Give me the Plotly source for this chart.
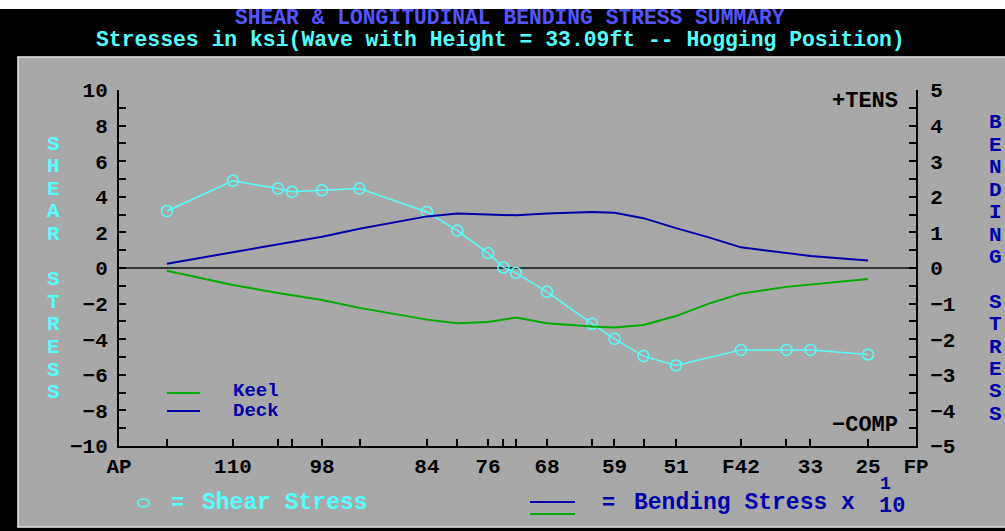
import plotly.graph_objects as go

# ---------------- data ----------------
# station positions along the ship, % of length from AP (0) to FP (100)
station_pos = [6.02, 14.30, 19.95, 21.71, 25.47, 30.18, 38.64, 42.45, 46.30, 48.24,
               49.81, 53.70, 59.35, 62.17, 65.81, 69.89, 78.04, 83.75, 86.76, 93.98]
station_labels = ["", "110", "", "", "98", "", "84", "", "76", "",
                  "", "68", "", "59", "", "51", "F42", "", "33", "25"]

shear_stress = [3.2, 4.9, 4.46, 4.28, 4.37, 4.46, 3.15, 2.1, 0.84, 0.03,
                -0.27, -1.34, -3.13, -3.98, -4.95, -5.48, -4.6, -4.6, -4.6, -4.86]

bend_pos = [6.02, 14.30, 19.95, 25.47, 30.18, 38.64, 42.45, 46.30, 49.81, 53.70,
            59.35, 62.17, 65.81, 69.89, 74.0, 78.04, 83.75, 86.76, 93.98]
deck_stress = [0.12, 0.45, 0.68, 0.88, 1.10, 1.45, 1.53, 1.51, 1.48, 1.53,
               1.57, 1.55, 1.40, 1.12, 0.86, 0.58, 0.41, 0.34, 0.21]
keel_stress = [-0.08, -0.48, -0.70, -0.90, -1.12, -1.45, -1.55, -1.52, -1.39, -1.55,
               -1.64, -1.67, -1.60, -1.35, -1.00, -0.72, -0.53, -0.46, -0.31]

end_labels = {0: "AP", 100: "FP"}

# ---------------- styling ----------------
W, H = 1005, 531
L, R, T, B = 119, 89, 90, 85
PW, PH = W - L - R, H - T - B
GREY = "#a8a8a8"
CYAN = "#55ffff"
BLUE = "#0000aa"
GREEN = "#00aa00"
TITLE_BLUE = "#5555ff"
MONO = "Liberation Mono"


def X(px):
    return (px - L) / PW


def Y(py):
    return (H - B - py) / PH


fig = go.Figure()

fig.add_trace(go.Scatter(x=bend_pos, y=keel_stress, yaxis="y2", mode="lines",
                         line=dict(color=GREEN, width=2), name="Keel", showlegend=False))
fig.add_trace(go.Scatter(x=bend_pos, y=deck_stress, yaxis="y2", mode="lines",
                         line=dict(color=BLUE, width=2), name="Deck", showlegend=False))
fig.add_trace(go.Scatter(x=station_pos, y=shear_stress, mode="lines+markers",
                         line=dict(color=CYAN, width=1.5),
                         marker=dict(symbol="circle-open", size=11, color=CYAN,
                                     line=dict(color=CYAN, width=1.5)),
                         name="Shear Stress", showlegend=False))

tickvals = [0] + station_pos + [100]
ticktext = [end_labels[0]] + station_labels + [end_labels[100]]

tickfont = dict(family=MONO, size=21, color="black", weight="bold")

shapes = [
    # white strip at very top
    dict(type="rect", xref="paper", yref="paper", x0=X(0), x1=X(W), y0=Y(9), y1=Y(0),
         fillcolor="white", line=dict(color="white", width=0), layer="above"),
    # grey panel with white border
    dict(type="rect", xref="paper", yref="paper", x0=X(18), x1=X(W + 5), y0=Y(527), y1=Y(57),
         fillcolor=GREY, line=dict(color="#e8e8e8", width=1.5), layer="below"),
    # legend glyphs (inside plot)
    dict(type="line", xref="paper", yref="paper", x0=X(167), x1=X(200), y0=Y(393), y1=Y(393),
         line=dict(color=GREEN, width=2)),
    dict(type="line", xref="paper", yref="paper", x0=X(167), x1=X(200), y0=Y(411), y1=Y(411),
         line=dict(color=BLUE, width=2)),
    # bottom legend glyphs
    dict(type="line", xref="paper", yref="paper", x0=X(530), x1=X(575), y0=Y(502), y1=Y(502),
         line=dict(color=BLUE, width=2)),
    dict(type="line", xref="paper", yref="paper", x0=X(530), x1=X(575), y0=Y(514), y1=Y(514),
         line=dict(color=GREEN, width=2)),
    dict(type="circle", xref="paper", yref="paper", x0=X(138), x1=X(149), y0=Y(507), y1=Y(499),
         line=dict(color=CYAN, width=1.5)),
]


def ann(text, px, py, color, size=21, xanchor="center", family=MONO):
    return dict(text=text, x=X(px), y=Y(py), xref="paper", yref="paper",
                xanchor=xanchor, yanchor="middle", showarrow=False,
                font=dict(family=family, size=size, color=color, weight="bold"))


annotations = [
    ann("SHEAR & LONGITUDINAL BENDING STRESS SUMMARY", 510, 18, TITLE_BLUE, 21.3),
    ann("Stresses in ksi(Wave with Height = 33.09ft -- Hogging Position)", 500, 40, CYAN, 21.4),
    ann("+TENS", 900, 101, "black", 22, xanchor="right"),
    ann("\u2212COMP", 900, 425, "black", 22, xanchor="right"),
    ann("Keel", 231, 391, BLUE, 19, xanchor="left"),
    ann("Deck", 231, 411, BLUE, 19, xanchor="left"),
    ann("=", 177, 503, CYAN, 22),
    ann("Shear Stress", 200, 503, CYAN, 23, xanchor="left"),
    ann("=", 608, 503, BLUE, 22),
    ann("Bending Stress x", 632, 503, BLUE, 23, xanchor="left"),
    ann("1", 885, 484, BLUE, 18),
    ann("10", 892, 506, BLUE, 22),
]

left_text = "SHEAR STRESS"
right_text = "BENDING STRESS"
for i, ch in enumerate(left_text):
    if ch.strip():
        annotations.append(ann(ch, 53, 144 + i * 22.6, CYAN, 21))
for i, ch in enumerate(right_text):
    if ch.strip():
        annotations.append(ann(ch, 995, 123 + i * 22.4, BLUE, 21))

fig.update_layout(
    width=W, height=H,
    margin=dict(l=L, r=R, t=T, b=B, autoexpand=False),
    paper_bgcolor="black",
    plot_bgcolor="rgba(0,0,0,0)",
    showlegend=False,
    xaxis=dict(range=[0, 100], tickvals=tickvals, ticktext=ticktext,
               ticks="inside", ticklen=7, tickwidth=1.5, tickcolor="black",
               showline=True, linecolor="black", linewidth=2,
               showgrid=False, zeroline=False, tickfont=tickfont, ticklabelstandoff=0,
               fixedrange=True),
    yaxis=dict(range=[-10, 10], dtick=2, tick0=0,
               ticks="inside", ticklen=7, tickwidth=1.5, tickcolor="black",
               minor=dict(dtick=1, ticks="inside", ticklen=7, tickwidth=1.5, tickcolor="black"),
               showline=True, linecolor="black", linewidth=2,
               showgrid=False, zeroline=True, zerolinecolor="#333333", zerolinewidth=2,
               tickfont=tickfont, ticklabelstandoff=5),
    yaxis2=dict(range=[-5, 5], dtick=1, tick0=0, overlaying="y", side="right",
                ticks="inside", ticklen=7, tickwidth=1.5, tickcolor="black",
                minor=dict(dtick=0.5, ticks="inside", ticklen=7, tickwidth=1.5, tickcolor="black"),
                showline=True, linecolor="black", linewidth=2,
                showgrid=False, zeroline=False, tickfont=tickfont, ticklabelstandoff=8),
    shapes=shapes,
    annotations=annotations,
)

fig.write_html("out.html", config={"displayModeBar": False},
               post_script="document.body.style.margin='0';document.body.style.overflow='hidden';")
